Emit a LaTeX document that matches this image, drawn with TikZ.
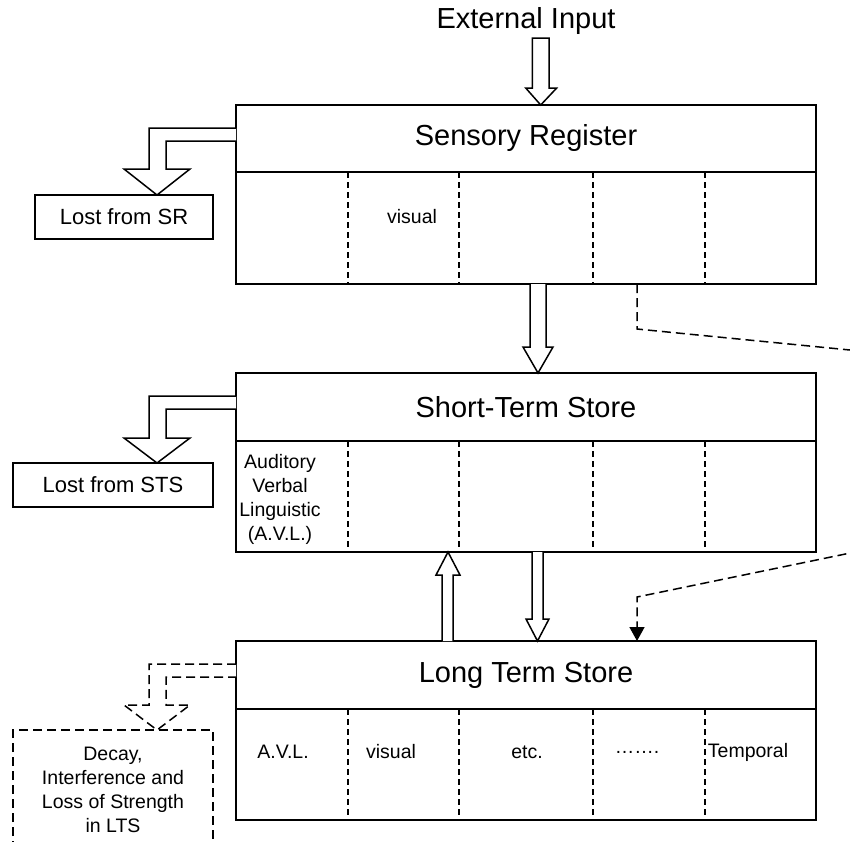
\documentclass[tikz,border=0pt]{standalone}
\usepackage{fontspec}
\setmainfont{Liberation Sans}
\usetikzlibrary{arrows.meta}
\begin{document}
\begin{tikzpicture}[x=1pt,y=-1pt,
  storebox/.style={draw, line width=1.6pt, minimum width=580pt, minimum height=179pt, anchor=north west, inner sep=0pt, outer sep=0pt},
  lostbox/.style={draw, line width=1.5pt, anchor=north west, inner sep=0pt, outer sep=0pt, minimum height=44pt, font=\fontsize{22}{26}\selectfont},
  blk/.style={draw, fill=white, line width=1.5pt, line join=miter},
  divider/.style={line width=1.4pt, dash pattern=on 6pt off 4pt},
  longdash/.style={line width=1.5pt, dash pattern=on 9pt off 5pt},
  headtxt/.style={font=\fontsize{29}{34}\selectfont, inner sep=0pt},
  smalltxt/.style={font=\fontsize{19.5}{24}\selectfont, inner sep=0pt, align=center},
]
\useasboundingbox (0,0) rectangle (850,841);
\clip (0,0) rectangle (850,841);

% store boxes
\node[storebox] (sr) at (236,105) {};
\node[storebox] (sts) at (236,373) {};
\node[storebox] (lts) at (236,641) {};

\foreach \b/\y in {sr/172, sts/441, lts/709}{
  \draw[line width=1.6pt] (236,\y) -- (816,\y);
  \foreach \x in {348,459,593,705}{
    \draw[divider] (\x,\y) -- (\x,\y+112);
  }
}

% headers
\node[headtxt] (ext) at (526,21) {External Input};
\node[headtxt] (srt) at (526,138) {Sensory Register};
\node[headtxt] (stst) at (526,407) {Short-Term Store};
\node[headtxt] (ltst) at (526,675) {Long Term Store};

% compartment texts
\node[smalltxt] (srvis) at (412,217) {visual};
\node[smalltxt] (avl) at (280,499) {Auditory\\Verbal\\Linguistic\\(A.V.L.)};
\node[smalltxt] (l1) at (283,752) {A.V.L.};
\node[smalltxt] (l2) at (391,752) {visual};
\node[smalltxt] (l3) at (527,752) {etc.};
\node[smalltxt] (l4) at (637,752) {…….};
\node[smalltxt] (l5) at (748,752) {Temporal};

% lost boxes
\node[lostbox, minimum width=178pt] (lostsr) at (35,195) {Lost from SR};
\node[lostbox, minimum width=200pt] (loststs) at (13,463) {Lost from STS};
\draw[longdash] (13,850) -- (13,730) -- (213,730) -- (213,850);
\node[smalltxt] (decay) at (113,790) {Decay,\\Interference and\\Loss of Strength\\in LTS};

% block arrows
\draw[blk] (532.3,38) -- (532.3,88) -- (525.7,88) -- (540.7,105) -- (556.7,88) -- (549,88) -- (549,38) -- cycle;
\draw[blk] (530,284) -- (530,347) -- (523,347) -- (538,373) -- (553,347) -- (546,347) -- (546,284);
\draw[blk] (532,552) -- (532,619) -- (526,619) -- (537.5,641) -- (549,619) -- (543,619) -- (543,552);
\draw[blk] (442,641) -- (442,575) -- (436,575) -- (448,552) -- (460,575) -- (453,575) -- (453,641);

% lost arrows
\draw[blk] (236,128) -- (149,128) -- (149,169) -- (124,169) -- (157,195) -- (190,169) -- (166,169) -- (166,141) -- (236,141);
\draw[blk] (236,396) -- (149,396) -- (149,438) -- (124,438) -- (157,463) -- (190,438) -- (166,438) -- (166,409) -- (236,409);
\draw[blk, longdash] (236,664) -- (149,664) -- (149,705) -- (124,705) -- (157,730) -- (190,705) -- (166,705) -- (166,677) -- (236,677);

% dashed link on the right
\coordinate (o1) at (637,284);
\coordinate (o2) at (637,329);
\coordinate (o3) at (860,351);
\coordinate (i1) at (860,551);
\coordinate (i2) at (637,597);
\coordinate (i3) at (637,641);
\draw[longdash] (o1) -- (o2) -- (o3);
\draw[longdash, -{Triangle[width=15pt,length=14pt,sep=0pt]}] (i1) -- (i2) -- (i3);
\end{tikzpicture}
\end{document}
